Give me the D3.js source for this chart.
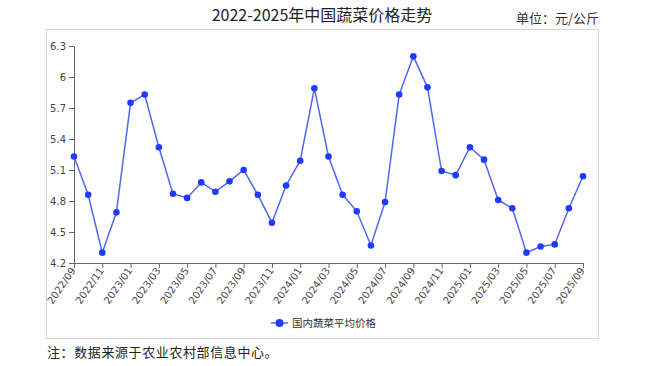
<!DOCTYPE html>
<html><head><meta charset="utf-8">
<script src="https://cdn.jsdelivr.net/npm/d3@7"></script>
<style>
html,body{margin:0;padding:0;background:#fff;}
svg{display:block;}
</style>
</head><body>
<svg id="c" width="645" height="366"></svg>
<script>
const months = ["2022/09","2022/10","2022/11","2022/12","2023/01","2023/02","2023/03","2023/04","2023/05","2023/06","2023/07","2023/08","2023/09","2023/10","2023/11","2023/12","2024/01","2024/02","2024/03","2024/04","2024/05","2024/06","2024/07","2024/08","2024/09","2024/10","2024/11","2024/12","2025/01","2025/02","2025/03","2025/04","2025/05","2025/06","2025/07","2025/08","2025/09"];
const prices = [5.23,4.86,4.30,4.69,5.75,5.83,5.32,4.87,4.83,4.98,4.89,4.99,5.10,4.86,4.59,4.95,5.19,5.89,5.23,4.86,4.70,4.37,4.79,5.83,6.20,5.90,5.09,5.05,5.32,5.20,4.81,4.73,4.30,4.36,4.38,4.73,5.04];
const yTicks = [4.2,4.5,4.8,5.1,5.4,5.7,6.0,6.3];
const seriesName = "国内蔬菜平均价格";
const titleText = "2022-2025年中国蔬菜价格走势";
const unitText = "单位：元/公斤";
const noteText = "注：数据来源于农业农村部信息中心。";

const svg = d3.select("#c");
const cjk = "'Noto Sans CJK SC','Noto Sans',sans-serif";

// frame
svg.append("rect").attr("x",46.5).attr("y",29.5).attr("width",552).attr("height",309)
  .attr("fill","#fff").attr("stroke","#d6d6d6").attr("stroke-width",1);

svg.append("text").attr("x",322).attr("y",21).attr("text-anchor","middle")
  .attr("font-family",cjk).attr("font-size",16).attr("fill","#222").text(titleText);
svg.append("text").attr("x",599).attr("y",23).attr("text-anchor","end")
  .attr("font-family",cjk).attr("font-size",13).attr("fill","#333").text(unitText);
svg.append("text").attr("x",47).attr("y",357)
  .attr("font-family",cjk).attr("font-size",13).attr("letter-spacing",0.6).attr("fill","#222").text(noteText);

const x = d3.scalePoint().domain(months).range([74,583]);
const y = d3.scaleLinear().domain([4.2,6.3]).range([263,46]);

const fmt = d => (Math.round(d*10)/10).toString();
const yAxis = svg.append("g").attr("transform","translate(74,0)")
  .call(d3.axisLeft(y).tickValues(yTicks).tickFormat(fmt).tickSize(5).tickSizeOuter(0));
yAxis.selectAll("text").attr("font-family","'DejaVu Sans',sans-serif").attr("font-size",10).attr("fill","#444");

const xAxis = svg.append("g").attr("transform","translate(0,263)")
  .call(d3.axisBottom(x).tickValues(months.filter((m,i)=>i%2===0)).tickSize(5).tickSizeOuter(0));
xAxis.selectAll("text").attr("font-family","'DejaVu Sans',sans-serif").attr("font-size",10).attr("fill","#444")
  .attr("text-anchor","end").attr("dy","0.35em").attr("dx",0)
  .attr("transform","translate(0,4) rotate(-55)").attr("y",0).attr("x",-2);
svg.selectAll(".domain").attr("stroke","#666");
svg.selectAll(".tick line").attr("stroke","#666");

const line = d3.line().x((d,i)=>x(months[i])).y(d=>y(d));
svg.append("path").datum(prices).attr("d",line).attr("fill","none")
  .attr("stroke","#5265f7").attr("stroke-width",1.5);
svg.selectAll("circle.pt").data(prices).enter().append("circle").attr("class","pt")
  .attr("cx",(d,i)=>x(months[i])).attr("cy",d=>y(d)).attr("r",3.3).attr("fill","#1f3bff");

// legend
const lg = svg.append("g").attr("transform","translate(271,323)");
lg.append("line").attr("x1",0).attr("x2",17).attr("y1",0).attr("y2",0).attr("stroke","#5265f7").attr("stroke-width",1.5);
lg.append("circle").attr("cx",8.5).attr("cy",0).attr("r",4).attr("fill","#1f3bff");
lg.append("text").attr("x",21).attr("y",0).attr("dy","0.35em").attr("font-family",cjk)
  .attr("font-size",10.5).attr("fill","#333").text(seriesName);
</script>
</body></html>
